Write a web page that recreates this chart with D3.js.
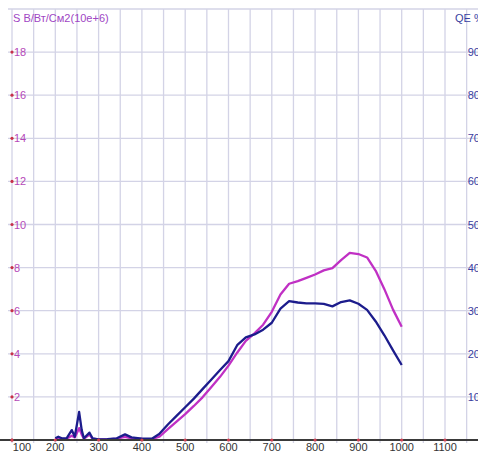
<!DOCTYPE html>
<html>
<head>
<meta charset="utf-8">
<script src="https://cdn.jsdelivr.net/npm/d3@7"></script>
<style>
    html, body { margin: 0; padding: 0; background: #fff; overflow: hidden; }
    svg { display: block; font-family: "Liberation Sans", Arial, sans-serif; }
</style>
</head>
<body>
<div id="chart"></div>
<script>
var wavelengths = [200, 207, 215, 226, 238, 245, 255, 261, 266, 279, 286, 300, 320, 342, 361, 376, 400, 423,
    440, 460, 480, 500, 520, 540, 560, 580, 600, 620, 640, 660, 680, 700, 720, 740, 760, 780, 800, 820,
    840, 860, 880, 900, 920, 940, 960, 980, 1000];

// S, V/W/cm2 (x 10e+6), left axis
var sensitivity = [0.03, 0.08, 0.05, 0.06, 0.2, 0.12, 0.55, 0.25, 0.06, 0.25, 0.06, 0.03, 0.03, 0.06, 0.15, 0.08, 0.05, 0.04,
    0.15, 0.5, 0.85, 1.2, 1.58, 1.98, 2.45, 2.92, 3.45, 4.05, 4.6, 4.95, 5.35, 5.95, 6.75, 7.25, 7.37, 7.52, 7.68, 7.87,
    7.98, 8.35, 8.68, 8.63, 8.47, 7.85, 7.0, 6.05, 5.26];

// QE %, right axis
var quantumEff = [0.4, 0.75, 0.4, 0.4, 2.3, 0.75, 6.5, 2.3, 0.4, 1.7, 0.4, 0.15, 0.2, 0.4, 1.3, 0.6, 0.3, 0.3,
    1.4, 3.6, 5.6, 7.6, 9.6, 11.8, 14.0, 16.2, 18.3, 22.0, 23.8, 24.5, 25.6, 27.2, 30.5, 32.2, 31.9, 31.7, 31.7, 31.6,
    31.0, 32.0, 32.4, 31.6, 30.2, 27.5, 24.3, 20.8, 17.4];

var xTicks = [100, 200, 300, 400, 500, 600, 700, 800, 900, 1000, 1100];
var sTicks = [2, 4, 6, 8, 10, 12, 14, 16, 18];
var qeTicks = [10, 20, 30, 40, 50, 60, 70, 80, 90];

var leftTitle = 'S В/Вт/См2(10e+6)',
    rightTitle = 'QE %';

var width = 478,
    height = 452;

var x = d3.scaleLinear().domain([100, 1100]).range([12, 445]);
var yS = d3.scaleLinear().domain([0, 20]).range([440, 9]);
var yQE = d3.scaleLinear().domain([0, 100]).range([440, 9]);

var svg = d3.select('#chart').append('svg')
    .attr('width', width)
    .attr('height', height);

var gridColor = '#d3d3e6';

// vertical grid every 50 nm
var gridX = d3.range(100, 1200, 50);
svg.append('g').selectAll('line')
    .data(gridX)
  .enter().append('line')
    .attr('x1', function(d) { return x(d); })
    .attr('x2', function(d) { return x(d); })
    .attr('y1', yS(20))
    .attr('y2', yS(0) + 3)
    .attr('stroke', gridColor)
    .attr('stroke-width', 1.3);

// horizontal grid every 2 units
svg.append('g').selectAll('line')
    .data(d3.range(2, 22, 2))
  .enter().append('line')
    .attr('x1', x(100) - 4)
    .attr('x2', width)
    .attr('y1', function(d) { return yS(d); })
    .attr('y2', function(d) { return yS(d); })
    .attr('stroke', gridColor)
    .attr('stroke-width', 1.3);

// left axis labels
var leftAxis = svg.append('g');
leftAxis.selectAll('circle')
    .data([0].concat(sTicks))
  .enter().append('circle')
    .attr('cx', x(100))
    .attr('cy', function(d) { return yS(d); })
    .attr('r', 1.6)
    .attr('fill', '#c8304a');
leftAxis.selectAll('text')
    .data(sTicks)
  .enter().append('text')
    .attr('x', x(100) + 2)
    .attr('y', function(d) { return yS(d) + 4; })
    .attr('font-size', 11)
    .attr('fill', '#b548b8')
    .text(function(d) { return d; });

svg.append('text')
    .attr('x', 13)
    .attr('y', 22)
    .attr('font-size', 11)
    .attr('fill', '#a046c4')
    .text(leftTitle);

// right axis labels, clipped by the window edge like the original
svg.append('g').selectAll('text')
    .data(qeTicks)
  .enter().append('text')
    .attr('x', x(1150) + 1)
    .attr('y', function(d) { return yQE(d) + 4; })
    .attr('font-size', 11)
    .attr('fill', '#3a3ea0')
    .text(function(d) { return d; });

svg.append('text')
    .attr('x', 455)
    .attr('y', 22)
    .attr('font-size', 11)
    .attr('fill', '#3a3ea0')
    .text(rightTitle);

// curves
var sLine = d3.line()
    .x(function(d, i) { return x(wavelengths[i]); })
    .y(function(d) { return yS(d); });

var qeLine = d3.line()
    .x(function(d, i) { return x(wavelengths[i]); })
    .y(function(d) { return yQE(d); });

svg.append('path')
    .attr('d', sLine(sensitivity))
    .attr('fill', 'none')
    .attr('stroke', '#c030c4')
    .attr('stroke-width', 2.3)
    .attr('stroke-linejoin', 'round');

svg.append('path')
    .attr('d', qeLine(quantumEff))
    .attr('fill', 'none')
    .attr('stroke', '#1c1c8c')
    .attr('stroke-width', 2.3)
    .attr('stroke-linejoin', 'round');

// x axis
svg.append('line')
    .attr('x1', 0)
    .attr('x2', width)
    .attr('y1', yS(0))
    .attr('y2', yS(0))
    .attr('stroke', '#3a3a3a')
    .attr('stroke-width', 1.8);

var xAxis = svg.append('g');
xAxis.selectAll('circle')
    .data(xTicks)
  .enter().append('circle')
    .attr('cx', function(d) { return x(d); })
    .attr('cy', yS(0))
    .attr('r', 1.6)
    .attr('fill', '#d04050');
xAxis.selectAll('text')
    .data(xTicks)
  .enter().append('text')
    .attr('x', function(d, i) { return i === 0 ? x(d) + 10 : x(d); })
    .attr('y', 451)
    .attr('text-anchor', 'middle')
    .attr('font-size', 11)
    .attr('fill', '#333')
    .text(function(d) { return d; });
</script>
</body>
</html>
